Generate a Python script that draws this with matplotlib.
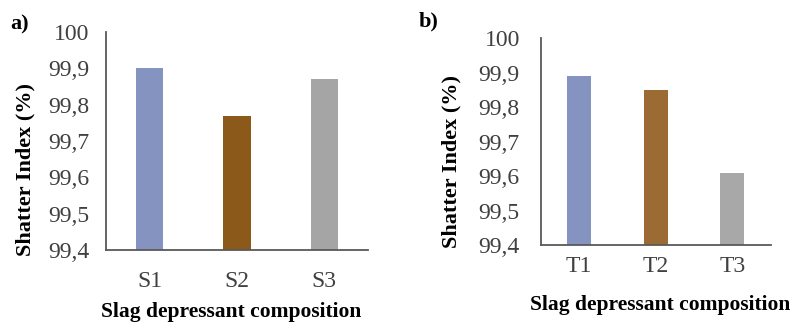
import matplotlib
matplotlib.use("Agg")
import matplotlib.pyplot as plt

# Data
cats_a = ["S1", "S2", "S3"]
vals_a = [99.90, 99.77, 99.87]
cats_b = ["T1", "T2", "T3"]
vals_b = [99.89, 99.85, 99.61]
colors_a = ["#8593C0", "#8B5A1A", "#A5A5A5"]
colors_b = ["#8593C0", "#9C6A33", "#A8A8A8"]
yticks = [99.4, 99.5, 99.6, 99.7, 99.8, 99.9, 100.0]
ytick_labels = ["99,4", "99,5", "99,6", "99,7", "99,8", "99,9", "100"]
ylabel = "Shatter Index (%)"
xlabel = "Slag depressant composition"

plt.rcParams['font.family'] = ['Liberation Serif', 'DejaVu Serif']

W, H = 796, 324
fig = plt.figure(figsize=(W / 100, H / 100), dpi=100)


def px_axes(l, t, r, b):
    return fig.add_axes([l / W, 1 - b / H, (r - l) / W, (b - t) / H])


def style(ax, cats, vals, cols, ypad, xpad):
    x = range(len(cats))
    ax.bar(x, vals, width=0.315, color=cols, zorder=2)
    ax.set_xlim(-0.5, len(cats) - 0.5)
    ax.set_ylim(99.4, 100.0)
    ax.set_yticks(yticks)
    ax.set_yticklabels(ytick_labels)
    ax.set_xticks(list(x))
    ax.set_xticklabels(cats)
    for s in ["top", "right"]:
        ax.spines[s].set_visible(False)
    for s in ["left", "bottom"]:
        ax.spines[s].set_color("#595959")
        ax.spines[s].set_linewidth(1.3)
    ax.tick_params(axis="y", length=0, pad=ypad, labelsize=17, labelcolor="#404040")
    ax.tick_params(axis="x", length=0, pad=xpad, labelsize=17, labelcolor="#404040")


ax1 = px_axes(106, 32, 368, 250)
style(ax1, cats_a, vals_a, colors_a, 12, 15)
ax2 = px_axes(540.7, 38.3, 770.7, 245)
style(ax2, cats_b, vals_b, colors_b, 15, 8)

# Axis labels (figure pixel coordinates)
fig.text(25 / W, 1 - 170 / H, ylabel, rotation=90, ha="center", va="center",
         fontsize=16, fontweight="bold")
fig.text(231 / W, 1 - 317 / H, xlabel, ha="center", va="baseline",
         fontsize=15.5, fontweight="bold")
fig.text(451 / W, 1 - 161 / H, ylabel, rotation=90, ha="center", va="center",
         fontsize=16, fontweight="bold")
fig.text(660 / W, 1 - 310 / H, xlabel, ha="center", va="baseline",
         fontsize=15.5, fontweight="bold")

# Panel letters
fig.text(19.5 / W, 1 - 24 / H, "a)", ha="center", va="center", fontsize=16, fontweight="bold")
fig.text(429 / W, 1 - 21 / H, "b)", ha="center", va="center", fontsize=16, fontweight="bold")

fig.savefig("out.png", dpi=100)
